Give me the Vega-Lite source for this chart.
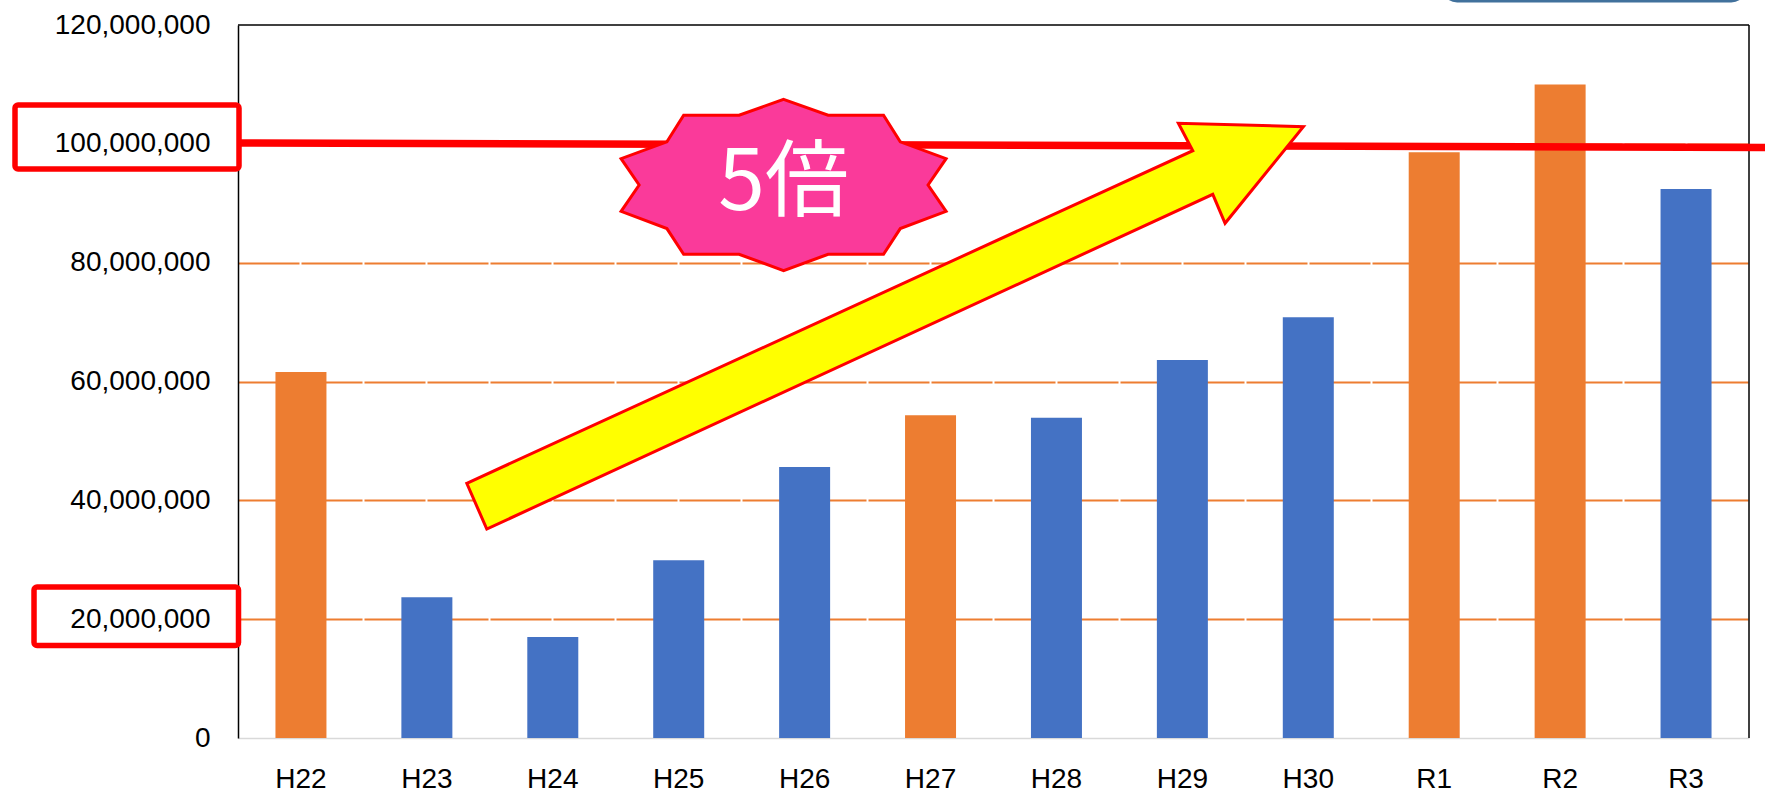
{
  "$schema": "https://vega.github.io/schema/vega-lite/v6.json",
  "width": 1511,
  "height": 713,
  "autosize": {"type": "none"},
  "padding": {"left": 238, "top": 25, "right": 16, "bottom": 54},
  "background": "white",
  "config": {
    "view": {"stroke": null},
    "font": "Liberation Sans"
  },
  "datasets": {
    "bars": [
      {"year": "H22", "amount": 61600000, "kind": "o"},
      {"year": "H23", "amount": 23700000, "kind": "b"},
      {"year": "H24", "amount": 17000000, "kind": "b"},
      {"year": "H25", "amount": 29900000, "kind": "b"},
      {"year": "H26", "amount": 45600000, "kind": "b"},
      {"year": "H27", "amount": 54300000, "kind": "o"},
      {"year": "H28", "amount": 53900000, "kind": "b"},
      {"year": "H29", "amount": 63600000, "kind": "b"},
      {"year": "H30", "amount": 70800000, "kind": "b"},
      {"year": "R1", "amount": 98600000, "kind": "o"},
      {"year": "R2", "amount": 110000000, "kind": "o"},
      {"year": "R3", "amount": 92400000, "kind": "b"}
    ],
    "frame": [
      {"u": 0, "u2": 12, "v": 120000000, "v2": 120000000},
      {"u": 12, "u2": 12, "v": 0, "v2": 120000000}
    ],
    "redline": [
      {"u": 0, "u2": 12.13, "v": 100140000, "v2": 99380000}
    ],
    "boxes": [
      {"u": -1.771, "u2": 0.008, "v": 106530000, "v2": 95760000},
      {"u": -1.62, "u2": 0.004, "v": 25410000, "v2": 15570000}
    ],
    "topbox": [
      {"u": 9.571, "u2": 11.97, "v": 124000000, "v2": 135000000}
    ],
    "arrow": [
      {"u": 5.139, "v": 69340000}
    ],
    "star": [
      {"u": 4.333, "v": 93070000, "label": "5倍"}
    ]
  },
  "resolve": {"scale": {"x": "independent"}, "axis": {"x": "independent"}},
  "layer": [
    {
      "data": {"name": "bars"},
      "mark": {"type": "bar"},
      "encoding": {
        "x": {
          "field": "year", "type": "nominal", "sort": null,
          "scale": {"paddingInner": 0.595, "paddingOuter": 0.2975},
          "axis": {
            "title": null, "labelAngle": 0, "ticks": false,
            "labelFontSize": 28, "labelColor": "#000000", "labelPadding": 27,
            "labelFont": "Liberation Sans",
            "domainColor": "#D9D9D9", "domainWidth": 1.5
          }
        },
        "y": {
          "field": "amount", "type": "quantitative",
          "scale": {"domain": [0, 120000000], "nice": false, "zero": true},
          "axis": {
            "title": null, "values": [0, 20000000, 40000000, 60000000, 80000000, 100000000, 120000000],
            "format": ",.0f", "ticks": false,
            "labelFontSize": 28, "labelColor": "#000000", "labelPadding": 28,
            "labelFont": "Liberation Sans",
            "domainColor": "#000000", "domainWidth": 1.5,
            "grid": true,
            "gridColor": {"condition": {"test": "datum.value === 0 || datum.value === 120000000", "value": "transparent"}, "value": "#ED7D31"},
            "gridWidth": 2, "gridDash": [61, 2]
          }
        },
        "color": {
          "field": "kind", "type": "nominal",
          "scale": {"domain": ["o", "b"], "range": ["#ED7D31", "#4472C4"]},
          "legend": null
        }
      }
    },
    {
      "data": {"name": "frame"},
      "mark": {"type": "rule", "color": "#000000", "strokeWidth": 1.5},
      "encoding": {
        "x": {"field": "u", "type": "quantitative", "scale": {"domain": [0, 12], "nice": false, "zero": false}, "axis": null},
        "x2": {"field": "u2"},
        "y": {"field": "v", "type": "quantitative", "scale": {"domain": [0, 120000000], "nice": false}},
        "y2": {"field": "v2"}
      }
    },
    {
      "data": {"name": "redline"},
      "mark": {"type": "rule", "color": "#FF0000", "strokeWidth": 7.5, "clip": false},
      "encoding": {
        "x": {"field": "u", "type": "quantitative", "scale": {"domain": [0, 12], "nice": false, "zero": false}, "axis": null},
        "x2": {"field": "u2"},
        "y": {"field": "v", "type": "quantitative", "scale": {"domain": [0, 120000000], "nice": false}},
        "y2": {"field": "v2"}
      }
    },
    {
      "data": {"name": "boxes"},
      "mark": {"type": "rect", "fill": "transparent", "stroke": "#FF0000", "strokeWidth": 5.5, "cornerRadius": 3, "clip": false},
      "encoding": {
        "x": {"field": "u", "type": "quantitative", "scale": {"domain": [0, 12], "nice": false, "zero": false}, "axis": null},
        "x2": {"field": "u2"},
        "y": {"field": "v", "type": "quantitative", "scale": {"domain": [0, 120000000], "nice": false}},
        "y2": {"field": "v2"}
      }
    },
    {
      "data": {"name": "topbox"},
      "mark": {"type": "rect", "fill": "transparent", "stroke": "#41719C", "strokeWidth": 2.5, "cornerRadius": 14, "clip": false},
      "encoding": {
        "x": {"field": "u", "type": "quantitative", "scale": {"domain": [0, 12], "nice": false, "zero": false}, "axis": null},
        "x2": {"field": "u2"},
        "y": {"field": "v", "type": "quantitative", "scale": {"domain": [0, 120000000], "nice": false}},
        "y2": {"field": "v2"}
      }
    },
    {
      "data": {"name": "arrow"},
      "mark": {
        "type": "point", "filled": true, "fill": "#FFFF00", "fillOpacity": 1,
        "stroke": "#FF0000", "strokeWidth": 3, "strokeOpacity": 1, "opacity": 1,
        "size": 699900,
        "shape": "M -1 0.376 L 0.7356 -0.4191 L 0.7012 -0.4846 L 1 -0.4765 L 0.8128 -0.2455 L 0.7834 -0.3148 L -0.9522 0.4853 Z",
        "clip": false
      },
      "encoding": {
        "x": {"field": "u", "type": "quantitative", "scale": {"domain": [0, 12], "nice": false, "zero": false}, "axis": null},
        "y": {"field": "v", "type": "quantitative", "scale": {"domain": [0, 120000000], "nice": false}}
      }
    },
    {
      "data": {"name": "star"},
      "mark": {
        "type": "point", "filled": true, "fill": "#FA3A9A", "fillOpacity": 1,
        "stroke": "#FF0000", "strokeWidth": 3, "strokeOpacity": 1, "opacity": 1,
        "size": 105625,
        "shape": "M 0 -0.527 L 0.274 -0.43 L 0.615 -0.43 L 0.718 -0.266 L 1 -0.162 L 0.889 0 L 1 0.162 L 0.718 0.268 L 0.615 0.426 L 0.274 0.426 L 0 0.527 L -0.274 0.426 L -0.615 0.426 L -0.718 0.268 L -1 0.162 L -0.889 0 L -1 -0.162 L -0.718 -0.266 L -0.615 -0.43 L -0.274 -0.43 Z",
        "clip": false
      },
      "encoding": {
        "x": {"field": "u", "type": "quantitative", "scale": {"domain": [0, 12], "nice": false, "zero": false}, "axis": null},
        "y": {"field": "v", "type": "quantitative", "scale": {"domain": [0, 120000000], "nice": false}}
      }
    },
    {
      "data": {"name": "star"},
      "mark": {"type": "text", "color": "#FFFFFF", "fontSize": 84, "font": "Noto Sans CJK JP", "align": "center", "baseline": "middle"},
      "encoding": {
        "x": {"field": "u", "type": "quantitative", "scale": {"domain": [0, 12], "nice": false, "zero": false}, "axis": null},
        "y": {"field": "v", "type": "quantitative", "scale": {"domain": [0, 120000000], "nice": false}},
        "text": {"field": "label"}
      }
    }
  ]
}
